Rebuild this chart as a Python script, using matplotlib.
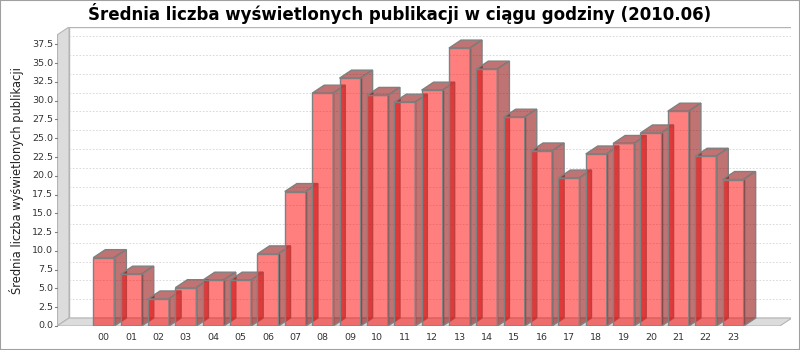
import matplotlib
matplotlib.use('Agg')
import matplotlib.pyplot as plt
from matplotlib.patches import Polygon, Rectangle

hours = ['%02d' % h for h in range(24)]
avg_views = [9.1, 6.9, 3.6, 5.1, 6.1, 6.1, 9.6, 17.9, 31.0, 33.0, 30.7, 29.8,
             31.4, 37.0, 34.2, 27.8, 23.3, 19.7, 22.9, 24.3, 25.7, 28.6, 22.6, 19.5]
y_ticks = [i * 2.5 for i in range(16)]

title = 'Średnia liczba wyświetlonych publikacji w ciągu godziny (2010.06)'
ylabel = 'Średnia liczba wyświetlonych publikacji'

# 3D look (JFreeChart style) in data units
dx = 0.44
dy = 1.065
x_left, x_front_right = -1.711, 24.71
y_front_top = 38.75
bar_w = 0.77

fig = plt.figure(figsize=(8, 3.5), dpi=100)
ax = fig.add_axes([57 / 800, 24 / 350, (791 - 57) / 800, (326 - 27) / 350])
ax.set_xlim(x_left, 25.117)
ax.set_ylim(0, 39.81)
for s in ax.spines.values():
    s.set_visible(False)
ax.set_xticks([])
ax.set_yticks([])

wall_face = '#dcdcdc'
wall_edge = '#b4b4b4'

# back wall
ax.add_patch(Rectangle((x_left + dx, dy), x_front_right - x_left, y_front_top,
                       facecolor='white', edgecolor=wall_edge, lw=1, zorder=0))
# left wall
ax.add_patch(Polygon([(x_left, 0), (x_left + dx, dy), (x_left + dx, y_front_top + dy),
                      (x_left, y_front_top)], closed=True,
                     facecolor=wall_face, edgecolor=wall_edge, lw=0.8, zorder=1))
# floor
ax.add_patch(Polygon([(x_left, 0), (x_front_right, 0), (x_front_right + dx, dy),
                      (x_left + dx, dy)], closed=True,
                     facecolor=wall_face, edgecolor=wall_edge, lw=0.8, zorder=1))

# gridlines on back wall
for v in y_ticks:
    ax.plot([x_left + dx, x_front_right + dx], [v + dy, v + dy], color='#d4d4d4',
            lw=0.6, ls=(0, (2, 2)), zorder=0.5)

# bars
x = list(range(len(hours)))
bars = ax.bar(x, avg_views, width=bar_w, color=(1, 0, 0, 0.5),
              edgecolor='#808080', linewidth=1)
side_col = (0.55, 0.0, 0.0, 0.55)
for i, (b, v) in enumerate(zip(bars, avg_views)):
    z = 3 + i * 0.1
    b.set_zorder(z)
    xl = i - bar_w / 2
    xr = i + bar_w / 2
    side = Polygon([(xr, 0), (xr + dx, dy), (xr + dx, v + dy), (xr, v)], closed=True,
                   facecolor=side_col, edgecolor='#808080', lw=1, zorder=z + 0.05)
    top = Polygon([(xl, v), (xl + dx, v + dy), (xr + dx, v + dy), (xr, v)], closed=True,
                  facecolor=side_col, edgecolor='#808080', lw=1, zorder=z + 0.05)
    ax.add_patch(side)
    ax.add_patch(top)

# value axis ticks and labels at front left
for v in y_ticks:
    ax.plot([x_left - 0.08, x_left], [v, v], color='#808080', lw=0.8, clip_on=False)
    ax.text(x_left - 0.15, v, '%.1f' % v, ha='right', va='center', fontsize=6.8,
            color='#333333', clip_on=False)
ax.plot([x_left, x_left], [0, y_front_top], color='#b4b4b4', lw=0.8, zorder=1.5)

for i, h in enumerate(hours):
    ax.text(i, -0.9, h, ha='center', va='top', fontsize=6.8, color='#333333', clip_on=False)

fig.text(17 / 800, 0.5 * ((350 - 326) + (350 - 35)) / 350, ylabel, rotation=90,
         ha='center', va='center', fontsize=8.3, color='#222222')
fig.text(0.5, 1 - 13 / 350, title, ha='center', va='center', fontsize=12,
         fontweight='bold', color='black')

fig.patches.append(Rectangle((0, 0), 1, 1, transform=fig.transFigure, fill=False,
                             edgecolor='#a0a0a0', lw=1.5))

fig.savefig('out.png', dpi=100)
